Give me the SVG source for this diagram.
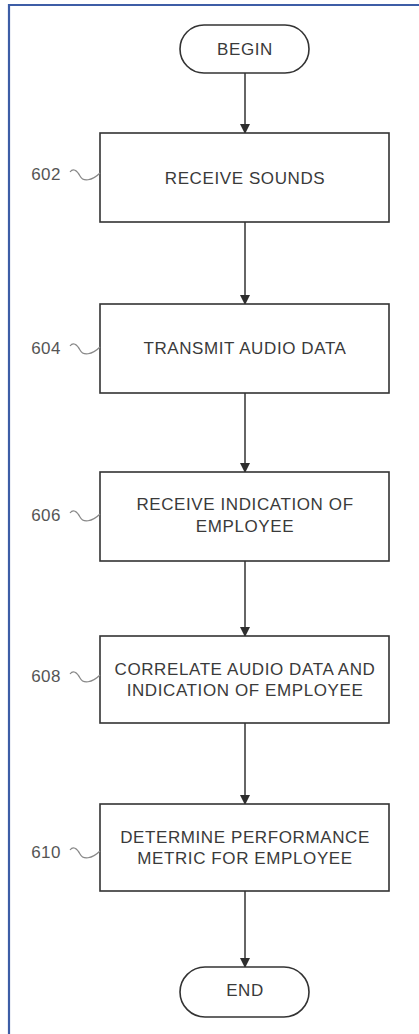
<svg xmlns="http://www.w3.org/2000/svg" width="419" height="1034" viewBox="0 0 419 1034">
<defs>
<marker id="ah" markerWidth="10" markerHeight="12" refX="9" refY="5" orient="auto" markerUnits="userSpaceOnUse">
<path d="M0,0 L10,5 L0,10 Z" fill="#2e2e2e"/>
</marker>
<style>
.box{fill:#fff;stroke:#333;stroke-width:1.6}
.t{font-family:"Liberation Sans",Arial,sans-serif;font-size:17px;letter-spacing:0.6px;fill:#3a3a3a;text-anchor:middle}
.lbl{font-family:"Liberation Sans",Arial,sans-serif;font-size:17px;letter-spacing:0.5px;fill:#555;text-anchor:end}
.sq{fill:none;stroke:#888;stroke-width:1.2}
.c{stroke:#333;stroke-width:1.5;fill:none;marker-end:url(#ah)}
</style>
</defs>
<rect width="419" height="1034" fill="#fff"/>
<path d="M9,1034 V5 H419" fill="none" stroke="#3d5da6" stroke-width="2.2"/>

<g id="connectors">
<line class="c" x1="245" y1="73" x2="245" y2="133"/>
<line class="c" x1="245" y1="222" x2="245" y2="304"/>
<line class="c" x1="245" y1="393" x2="245" y2="472"/>
<line class="c" x1="245" y1="561" x2="245" y2="636"/>
<line class="c" x1="245" y1="723" x2="245" y2="804"/>
<line class="c" x1="245" y1="891" x2="245" y2="967"/>
</g>

<g id="begin">
<rect class="box" x="180" y="25" width="129" height="48" rx="24"/>
<text class="t" x="245" y="55">BEGIN</text>
</g>

<g id="n602">
<rect class="box" x="100" y="133" width="289" height="89"/>
<text class="t" x="245" y="184">RECEIVE SOUNDS</text>
<text class="lbl" x="61" y="180">602</text>
<path class="sq" d="M70,172 C73,168 77,170 80,176 C83,182 92,181 100,173"/>
</g>

<g id="n604">
<rect class="box" x="100" y="304" width="289" height="89"/>
<text class="t" x="245" y="354">TRANSMIT AUDIO DATA</text>
<text class="lbl" x="61" y="354">604</text>
<path class="sq" d="M70,346 C73,342 77,344 80,350 C83,356 92,355 100,347"/>
</g>

<g id="n606">
<rect class="box" x="100" y="472" width="289" height="89"/>
<text class="t" x="245" y="510">RECEIVE INDICATION OF</text>
<text class="t" x="245" y="532">EMPLOYEE</text>
<text class="lbl" x="61" y="521">606</text>
<path class="sq" d="M70,513 C73,509 77,511 80,517 C83,523 92,522 100,514"/>
</g>

<g id="n608">
<rect class="box" x="100" y="636" width="289" height="87"/>
<text class="t" x="245" y="675">CORRELATE AUDIO DATA AND</text>
<text class="t" x="245" y="696">INDICATION OF EMPLOYEE</text>
<text class="lbl" x="61" y="682">608</text>
<path class="sq" d="M70,674 C73,670 77,672 80,678 C83,684 92,683 100,675"/>
</g>

<g id="n610">
<rect class="box" x="100" y="804" width="289" height="87"/>
<text class="t" x="245" y="843">DETERMINE PERFORMANCE</text>
<text class="t" x="245" y="864">METRIC FOR EMPLOYEE</text>
<text class="lbl" x="61" y="858">610</text>
<path class="sq" d="M70,850 C73,846 77,848 80,854 C83,860 92,859 100,851"/>
</g>

<g id="end">
<rect class="box" x="180" y="967" width="129" height="50" rx="25"/>
<text class="t" x="245" y="996">END</text>
</g>
</svg>
